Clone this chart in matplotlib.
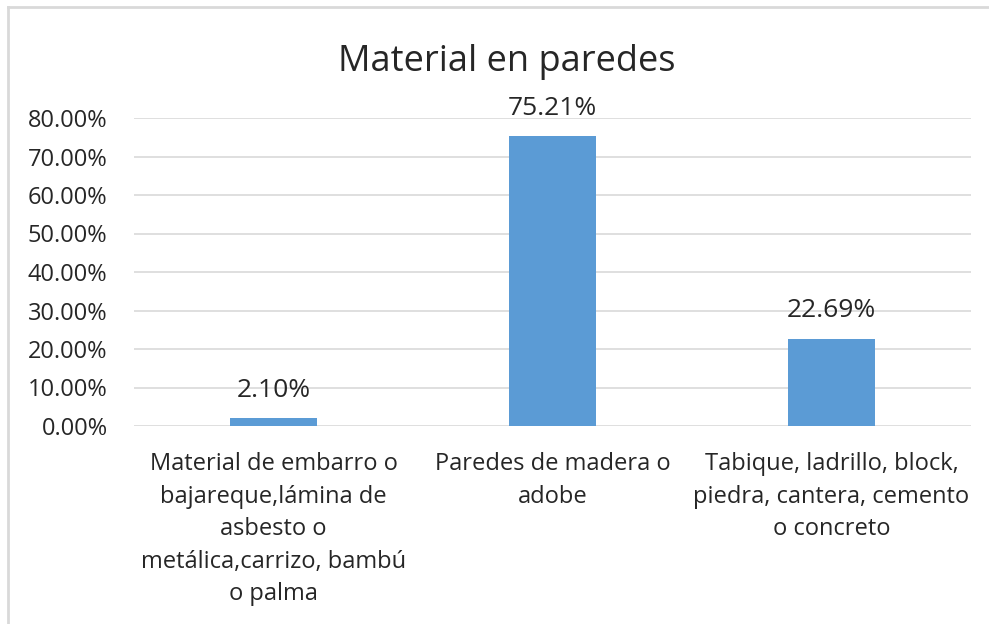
import matplotlib.pyplot as plt
from matplotlib.lines import Line2D

# --- datos ---
categorias = [
    "Material de embarro o\nbajareque,lámina de\nasbesto o\nmetálica,carrizo, bambú\no palma",
    "Paredes de madera o\nadobe",
    "Tabique, ladrillo, block,\npiedra, cantera, cemento\no concreto",
]
porcentajes = [2.10, 75.21, 22.69]
ticks_y = [0, 10, 20, 30, 40, 50, 60, 70, 80]

plt.rcParams['font.family'] = ['Open Sans', 'DejaVu Sans']

W, H = 989, 624
fig = plt.figure(figsize=(W / 100, H / 100), dpi=100)
ax = fig.add_axes([134 / W, 1 - 426 / H, (971 - 134) / W, (426 - 118) / H])

x = range(len(categorias))
barras = ax.bar(x, porcentajes, width=0.315, color='#5B9BD5', zorder=3)

for xi, v in zip(x, porcentajes):
    ax.text(xi, v + 5.5, f"{v:.2f}%", ha='center', va='baseline', fontsize=19, color='#262626')

ax.set_xlim(-0.5, 2.5)
ax.set_ylim(0, 80)
ax.set_yticks(ticks_y)
ax.set_yticklabels([f"{t:.2f}%" for t in ticks_y], fontsize=17, color='#262626')
ax.set_xticks(list(x))
ax.set_xticklabels(categorias, fontsize=17, color='#262626', linespacing=1.47)
ax.tick_params(axis='both', length=0)
ax.tick_params(axis='y', pad=19)
ax.tick_params(axis='x', pad=19)

ax.grid(axis='y', color='#D9D9D9', linewidth=1.2, zorder=0)
for s in ax.spines.values():
    s.set_visible(False)

fig.text(507 / W, 1 - 71 / H, "Material en paredes", ha='center', va='baseline', fontsize=26, color='#262626')

# borde del gráfico (recortado)
fig.add_artist(Line2D([8 / W, 1], [1 - 7 / H, 1 - 7 / H], color='#D9D9D9', linewidth=2, transform=fig.transFigure))
fig.add_artist(Line2D([8 / W, 8 / W], [0, 1 - 7 / H], color='#D9D9D9', linewidth=2, transform=fig.transFigure))

fig.savefig("out.png", dpi=100)
